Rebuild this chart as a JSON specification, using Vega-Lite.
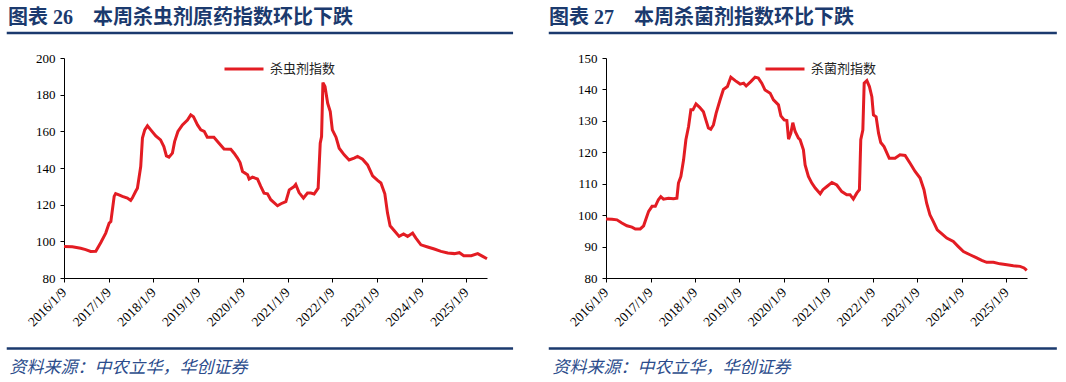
{
  "$schema": "https://vega.github.io/schema/vega-lite/v6.json",
  "background": "white",
  "padding": {"left": 5, "top": 7, "right": 5, "bottom": 5},
  "bounds": "flush",
  "spacing": 119,
  "resolve": {"scale": {"color": "independent", "x": "independent", "y": "independent"}, "legend": {"color": "independent"}},
  "config": {
    "view": {"stroke": null},
    "axis": {
      "domainColor": "#000000",
      "tickColor": "#000000",
      "labelColor": "#000000",
      "labelFont": "Liberation Serif",
      "grid": false,
      "tickSize": 4
    }
  },
  "datasets": {
    "insect": [
      {"date": "2016-01-09", "value": 97.2},
      {"date": "2016-03-17", "value": 97.0},
      {"date": "2016-05-24", "value": 96.2},
      {"date": "2016-07-04", "value": 95.5},
      {"date": "2016-08-14", "value": 94.5},
      {"date": "2016-09-25", "value": 94.6},
      {"date": "2016-11-05", "value": 99.4},
      {"date": "2016-12-15", "value": 104.5},
      {"date": "2017-01-12", "value": 110.0},
      {"date": "2017-01-26", "value": 110.8},
      {"date": "2017-02-22", "value": 124.5},
      {"date": "2017-03-06", "value": 126.0},
      {"date": "2017-04-02", "value": 125.3},
      {"date": "2017-04-30", "value": 124.5},
      {"date": "2017-06-10", "value": 123.6},
      {"date": "2017-07-07", "value": 122.3},
      {"date": "2017-07-20", "value": 123.6},
      {"date": "2017-08-17", "value": 127.3},
      {"date": "2017-08-31", "value": 129.0},
      {"date": "2017-09-27", "value": 140.8},
      {"date": "2017-10-11", "value": 156.3},
      {"date": "2017-10-30", "value": 160.8},
      {"date": "2017-11-21", "value": 163.0},
      {"date": "2017-12-18", "value": 160.8},
      {"date": "2018-01-28", "value": 157.5},
      {"date": "2018-03-08", "value": 155.3},
      {"date": "2018-04-04", "value": 151.7},
      {"date": "2018-04-25", "value": 146.6},
      {"date": "2018-05-16", "value": 145.9},
      {"date": "2018-06-13", "value": 148.1},
      {"date": "2018-07-01", "value": 154.4},
      {"date": "2018-07-28", "value": 159.9},
      {"date": "2018-09-03", "value": 163.5},
      {"date": "2018-10-14", "value": 166.2},
      {"date": "2018-11-10", "value": 169.0},
      {"date": "2018-12-02", "value": 168.0},
      {"date": "2019-01-04", "value": 163.5},
      {"date": "2019-01-31", "value": 160.8},
      {"date": "2019-02-28", "value": 160.0},
      {"date": "2019-03-25", "value": 156.8},
      {"date": "2019-05-18", "value": 156.8},
      {"date": "2019-06-29", "value": 153.5},
      {"date": "2019-08-09", "value": 150.4},
      {"date": "2019-10-03", "value": 150.2},
      {"date": "2019-10-30", "value": 148.1},
      {"date": "2019-11-27", "value": 145.4},
      {"date": "2019-12-18", "value": 143.0},
      {"date": "2020-01-07", "value": 138.1},
      {"date": "2020-02-17", "value": 136.3},
      {"date": "2020-03-01", "value": 134.0},
      {"date": "2020-03-28", "value": 135.0},
      {"date": "2020-05-08", "value": 134.0},
      {"date": "2020-06-04", "value": 130.0},
      {"date": "2020-07-01", "value": 126.3},
      {"date": "2020-07-29", "value": 125.9},
      {"date": "2020-08-25", "value": 122.7},
      {"date": "2020-10-19", "value": 119.4},
      {"date": "2020-11-16", "value": 120.5},
      {"date": "2020-12-26", "value": 121.7},
      {"date": "2021-01-23", "value": 128.1},
      {"date": "2021-03-04", "value": 129.9},
      {"date": "2021-03-17", "value": 131.0},
      {"date": "2021-04-13", "value": 126.6},
      {"date": "2021-05-19", "value": 123.6},
      {"date": "2021-06-21", "value": 126.3},
      {"date": "2021-07-18", "value": 126.3},
      {"date": "2021-08-14", "value": 125.8},
      {"date": "2021-09-16", "value": 129.0},
      {"date": "2021-10-03", "value": 153.5},
      {"date": "2021-10-14", "value": 157.1},
      {"date": "2021-10-25", "value": 186.6},
      {"date": "2021-11-11", "value": 184.4},
      {"date": "2021-12-03", "value": 175.3},
      {"date": "2021-12-24", "value": 170.8},
      {"date": "2022-01-10", "value": 160.8},
      {"date": "2022-02-09", "value": 156.8},
      {"date": "2022-03-07", "value": 150.8},
      {"date": "2022-04-17", "value": 147.2},
      {"date": "2022-05-27", "value": 144.4},
      {"date": "2022-07-07", "value": 145.4},
      {"date": "2022-08-04", "value": 146.3},
      {"date": "2022-09-14", "value": 144.8},
      {"date": "2022-10-25", "value": 141.7},
      {"date": "2022-12-05", "value": 135.7},
      {"date": "2023-01-15", "value": 133.2},
      {"date": "2023-02-11", "value": 131.8},
      {"date": "2023-03-15", "value": 125.9},
      {"date": "2023-04-06", "value": 115.4},
      {"date": "2023-04-27", "value": 108.5},
      {"date": "2023-05-30", "value": 105.9},
      {"date": "2023-07-10", "value": 102.7},
      {"date": "2023-08-15", "value": 104.0},
      {"date": "2023-09-17", "value": 102.7},
      {"date": "2023-10-28", "value": 104.5},
      {"date": "2023-11-24", "value": 101.8},
      {"date": "2024-01-04", "value": 98.1},
      {"date": "2024-02-28", "value": 96.9},
      {"date": "2024-04-22", "value": 95.8},
      {"date": "2024-06-16", "value": 94.5},
      {"date": "2024-08-10", "value": 93.6},
      {"date": "2024-10-03", "value": 93.3},
      {"date": "2024-11-13", "value": 93.8},
      {"date": "2024-12-19", "value": 92.2},
      {"date": "2025-02-18", "value": 92.2},
      {"date": "2025-04-12", "value": 93.3},
      {"date": "2025-05-23", "value": 91.8},
      {"date": "2025-06-27", "value": 90.5}
    ],
    "fungi": [
      {"date": "2016-01-09", "value": 98.8},
      {"date": "2016-02-27", "value": 98.7},
      {"date": "2016-04-08", "value": 98.5},
      {"date": "2016-05-18", "value": 97.5},
      {"date": "2016-06-29", "value": 96.6},
      {"date": "2016-08-09", "value": 96.2},
      {"date": "2016-09-06", "value": 95.6},
      {"date": "2016-10-16", "value": 95.6},
      {"date": "2016-11-13", "value": 96.6},
      {"date": "2016-12-05", "value": 99.1},
      {"date": "2016-12-24", "value": 101.2},
      {"date": "2017-01-21", "value": 102.8},
      {"date": "2017-02-17", "value": 102.8},
      {"date": "2017-03-14", "value": 104.9},
      {"date": "2017-04-03", "value": 105.9},
      {"date": "2017-04-25", "value": 105.1},
      {"date": "2017-06-05", "value": 105.4},
      {"date": "2017-07-16", "value": 105.2},
      {"date": "2017-08-13", "value": 105.4},
      {"date": "2017-08-26", "value": 110.2},
      {"date": "2017-09-15", "value": 112.3},
      {"date": "2017-10-07", "value": 117.6},
      {"date": "2017-10-26", "value": 124.0},
      {"date": "2017-11-17", "value": 128.2},
      {"date": "2017-12-06", "value": 133.5},
      {"date": "2017-12-23", "value": 133.5},
      {"date": "2018-01-17", "value": 135.4},
      {"date": "2018-02-16", "value": 134.3},
      {"date": "2018-03-19", "value": 132.9},
      {"date": "2018-04-08", "value": 130.3},
      {"date": "2018-04-29", "value": 127.7},
      {"date": "2018-05-18", "value": 127.3},
      {"date": "2018-06-09", "value": 128.7},
      {"date": "2018-07-01", "value": 132.4},
      {"date": "2018-08-03", "value": 136.7},
      {"date": "2018-08-30", "value": 140.0},
      {"date": "2018-10-02", "value": 140.9},
      {"date": "2018-10-30", "value": 143.9},
      {"date": "2018-12-05", "value": 142.8},
      {"date": "2019-01-15", "value": 141.7},
      {"date": "2019-02-12", "value": 142.0},
      {"date": "2019-03-05", "value": 141.1},
      {"date": "2019-04-12", "value": 142.5},
      {"date": "2019-05-17", "value": 143.9},
      {"date": "2019-06-13", "value": 143.6},
      {"date": "2019-07-11", "value": 142.0},
      {"date": "2019-08-07", "value": 139.8},
      {"date": "2019-09-18", "value": 138.8},
      {"date": "2019-10-15", "value": 136.7},
      {"date": "2019-11-25", "value": 135.1},
      {"date": "2019-12-15", "value": 131.6},
      {"date": "2020-01-11", "value": 130.3},
      {"date": "2020-02-02", "value": 130.1},
      {"date": "2020-02-16", "value": 124.2},
      {"date": "2020-03-06", "value": 126.1},
      {"date": "2020-03-22", "value": 129.4},
      {"date": "2020-04-10", "value": 126.6},
      {"date": "2020-05-07", "value": 124.5},
      {"date": "2020-05-21", "value": 124.0},
      {"date": "2020-06-17", "value": 120.8},
      {"date": "2020-07-01", "value": 116.0},
      {"date": "2020-07-28", "value": 112.3},
      {"date": "2020-08-25", "value": 110.2},
      {"date": "2020-09-22", "value": 108.6},
      {"date": "2020-11-02", "value": 106.8},
      {"date": "2020-11-24", "value": 108.1},
      {"date": "2020-12-27", "value": 109.1},
      {"date": "2021-02-06", "value": 110.4},
      {"date": "2021-03-18", "value": 109.6},
      {"date": "2021-04-28", "value": 107.5},
      {"date": "2021-06-08", "value": 106.5},
      {"date": "2021-07-05", "value": 106.5},
      {"date": "2021-08-01", "value": 105.1},
      {"date": "2021-08-29", "value": 107.0},
      {"date": "2021-09-20", "value": 108.1},
      {"date": "2021-10-01", "value": 124.0},
      {"date": "2021-10-18", "value": 127.1},
      {"date": "2021-10-29", "value": 142.0},
      {"date": "2021-11-20", "value": 142.8},
      {"date": "2021-12-11", "value": 140.9},
      {"date": "2021-12-31", "value": 137.7},
      {"date": "2022-01-13", "value": 131.9},
      {"date": "2022-02-04", "value": 131.3},
      {"date": "2022-02-24", "value": 126.1},
      {"date": "2022-03-14", "value": 123.1},
      {"date": "2022-04-10", "value": 121.8},
      {"date": "2022-05-23", "value": 118.1},
      {"date": "2022-07-09", "value": 118.1},
      {"date": "2022-08-19", "value": 119.2},
      {"date": "2022-09-30", "value": 119.0},
      {"date": "2022-11-10", "value": 116.5},
      {"date": "2022-12-21", "value": 113.9},
      {"date": "2023-01-31", "value": 111.8},
      {"date": "2023-03-04", "value": 108.1},
      {"date": "2023-03-26", "value": 103.8},
      {"date": "2023-04-22", "value": 100.1},
      {"date": "2023-05-19", "value": 98.0},
      {"date": "2023-06-21", "value": 95.3},
      {"date": "2023-07-27", "value": 94.1},
      {"date": "2023-09-07", "value": 92.7},
      {"date": "2023-10-31", "value": 91.6},
      {"date": "2023-12-11", "value": 90.0},
      {"date": "2024-01-22", "value": 88.4},
      {"date": "2024-03-16", "value": 87.4},
      {"date": "2024-05-10", "value": 86.4},
      {"date": "2024-06-20", "value": 85.6},
      {"date": "2024-07-31", "value": 85.0},
      {"date": "2024-09-24", "value": 85.0},
      {"date": "2024-11-18", "value": 84.5},
      {"date": "2025-01-13", "value": 84.2},
      {"date": "2025-03-07", "value": 83.9},
      {"date": "2025-05-01", "value": 83.7},
      {"date": "2025-06-03", "value": 83.2},
      {"date": "2025-06-25", "value": 82.4}
    ]
  },
  "hconcat": [
    {
      "width": 423,
      "height": 220,
      "title": {
        "text": "图表 26\u3000本周杀虫剂原药指数环比下跌",
        "anchor": "start",
        "frame": "group",
        "dx": -56,
        "offset": 4,
        "font": "Liberation Serif, Noto Sans CJK SC",
        "fontSize": 20,
        "fontWeight": "bold",
        "color": "#1B3A6E"
      },
      "layer": [
        {
          "data": {"name": "insect"},
          "mark": {"type": "line", "strokeWidth": 3, "color": "#E31C23"},
          "encoding": {
            "x": {
              "field": "date",
              "type": "temporal",
              "scale": {"type": "utc", "domain": [{"year": 2016, "month": 1, "date": 9, "utc": true}, {"year": 2025, "month": 6, "date": 27, "utc": true}]},
              "axis": {
                "values": [
                  {"year": 2016, "month": 1, "date": 9, "utc": true},
                  {"year": 2017, "month": 1, "date": 9, "utc": true},
                  {"year": 2018, "month": 1, "date": 9, "utc": true},
                  {"year": 2019, "month": 1, "date": 9, "utc": true},
                  {"year": 2020, "month": 1, "date": 9, "utc": true},
                  {"year": 2021, "month": 1, "date": 9, "utc": true},
                  {"year": 2022, "month": 1, "date": 9, "utc": true},
                  {"year": 2023, "month": 1, "date": 9, "utc": true},
                  {"year": 2024, "month": 1, "date": 9, "utc": true},
                  {"year": 2025, "month": 1, "date": 9, "utc": true}
                ],
                "format": "%Y/%-m/%-d",
                "labelAngle": -45,
                "labelAlign": "right",
                "labelBaseline": "middle",
                "labelFontSize": 13.5,
                "labelPadding": 8,
                "labelOverlap": false,
                "labelFlush": false,
                "title": "资料来源：中农立华，华创证券",
                "titleFont": "Noto Sans CJK SC",
                "titleFontStyle": "italic",
                "titleFontWeight": "normal",
                "titleFontSize": 17,
                "titleColor": "#2B4C8C",
                "titleAnchor": "start",
                "titleAlign": "left",
                "titleBaseline": "alphabetic",
                "titleX": -55,
                "titleY": 94
              }
            },
            "y": {
              "field": "value",
              "type": "quantitative",
              "scale": {"domain": [80, 200], "nice": false, "zero": false},
              "axis": {"values": [80, 100, 120, 140, 160, 180, 200], "labelFontSize": 13, "labelPadding": 5, "title": null}
            },
            "color": {
              "datum": "杀虫剂指数",
              "scale": {"range": ["#E31C23"]},
              "legend": {
                "title": null,
                "orient": "none",
                "legendX": 159,
                "legendY": -10,
                "padding": 0,
                "symbolType": "stroke",
                "symbolSize": 1521,
                "symbolStrokeWidth": 3,
                "labelFont": "Noto Sans CJK SC",
                "labelFontSize": 13,
                "labelColor": "#222222",
                "labelOffset": 5
              }
            }
          }
        },
        {
          "data": {"values": [{"top": 213.6, "bottom": 41.6}]},
          "transform": [{"fold": ["top", "bottom"], "as": ["which", "level"]}],
          "mark": {"type": "rule", "color": "#1B3A6E", "strokeWidth": 2.5, "clip": false},
          "encoding": {
            "x": {
              "datum": {"year": 2014, "month": 9, "date": 28, "utc": true},
              "type": "temporal",
              "axis": {
                "values": [
                  {"year": 2016, "month": 1, "date": 9, "utc": true},
                  {"year": 2017, "month": 1, "date": 9, "utc": true},
                  {"year": 2018, "month": 1, "date": 9, "utc": true},
                  {"year": 2019, "month": 1, "date": 9, "utc": true},
                  {"year": 2020, "month": 1, "date": 9, "utc": true},
                  {"year": 2021, "month": 1, "date": 9, "utc": true},
                  {"year": 2022, "month": 1, "date": 9, "utc": true},
                  {"year": 2023, "month": 1, "date": 9, "utc": true},
                  {"year": 2024, "month": 1, "date": 9, "utc": true},
                  {"year": 2025, "month": 1, "date": 9, "utc": true}
                ],
                "format": "%Y/%-m/%-d",
                "labelAngle": -45,
                "labelAlign": "right",
                "labelBaseline": "middle",
                "labelFontSize": 13.5,
                "labelPadding": 8,
                "labelOverlap": false,
                "labelFlush": false,
                "title": "资料来源：中农立华，华创证券",
                "titleFont": "Noto Sans CJK SC",
                "titleFontStyle": "italic",
                "titleFontWeight": "normal",
                "titleFontSize": 17,
                "titleColor": "#2B4C8C",
                "titleAnchor": "start",
                "titleAlign": "left",
                "titleBaseline": "alphabetic",
                "titleX": -55,
                "titleY": 94
              }
            },
            "x2": {"datum": {"year": 2026, "month": 1, "date": 26, "utc": true}},
            "y": {
              "field": "level",
              "type": "quantitative",
              "axis": {"values": [80, 100, 120, 140, 160, 180, 200], "labelFontSize": 13, "labelPadding": 5, "title": null}
            }
          }
        }
      ]
    },
    {
      "width": 421,
      "height": 220,
      "title": {
        "text": "图表 27\u3000本周杀菌剂指数环比下跌",
        "anchor": "start",
        "frame": "group",
        "dx": -57,
        "offset": 4,
        "font": "Liberation Serif, Noto Sans CJK SC",
        "fontSize": 20,
        "fontWeight": "bold",
        "color": "#1B3A6E"
      },
      "layer": [
        {
          "data": {"name": "fungi"},
          "mark": {"type": "line", "strokeWidth": 3, "color": "#E31C23"},
          "encoding": {
            "x": {
              "field": "date",
              "type": "temporal",
              "scale": {"type": "utc", "domain": [{"year": 2016, "month": 1, "date": 9, "utc": true}, {"year": 2025, "month": 6, "date": 27, "utc": true}]},
              "axis": {
                "values": [
                  {"year": 2016, "month": 1, "date": 9, "utc": true},
                  {"year": 2017, "month": 1, "date": 9, "utc": true},
                  {"year": 2018, "month": 1, "date": 9, "utc": true},
                  {"year": 2019, "month": 1, "date": 9, "utc": true},
                  {"year": 2020, "month": 1, "date": 9, "utc": true},
                  {"year": 2021, "month": 1, "date": 9, "utc": true},
                  {"year": 2022, "month": 1, "date": 9, "utc": true},
                  {"year": 2023, "month": 1, "date": 9, "utc": true},
                  {"year": 2024, "month": 1, "date": 9, "utc": true},
                  {"year": 2025, "month": 1, "date": 9, "utc": true}
                ],
                "format": "%Y/%-m/%-d",
                "labelAngle": -45,
                "labelAlign": "right",
                "labelBaseline": "middle",
                "labelFontSize": 13.5,
                "labelPadding": 8,
                "labelOverlap": false,
                "labelFlush": false,
                "title": "资料来源：中农立华，华创证券",
                "titleFont": "Noto Sans CJK SC",
                "titleFontStyle": "italic",
                "titleFontWeight": "normal",
                "titleFontSize": 17,
                "titleColor": "#2B4C8C",
                "titleAnchor": "start",
                "titleAlign": "left",
                "titleBaseline": "alphabetic",
                "titleX": -54,
                "titleY": 94
              }
            },
            "y": {
              "field": "value",
              "type": "quantitative",
              "scale": {"domain": [80, 150], "nice": false, "zero": false},
              "axis": {"values": [80, 90, 100, 110, 120, 130, 140, 150], "labelFontSize": 13, "labelPadding": 5, "title": null}
            },
            "color": {
              "datum": "杀菌剂指数",
              "scale": {"range": ["#E31C23"]},
              "legend": {
                "title": null,
                "orient": "none",
                "legendX": 158,
                "legendY": -10,
                "padding": 0,
                "symbolType": "stroke",
                "symbolSize": 1521,
                "symbolStrokeWidth": 3,
                "labelFont": "Noto Sans CJK SC",
                "labelFontSize": 13,
                "labelColor": "#222222",
                "labelOffset": 5
              }
            }
          }
        },
        {
          "data": {"values": [{"top": 157.95, "bottom": 57.6}]},
          "transform": [{"fold": ["top", "bottom"], "as": ["which", "level"]}],
          "mark": {"type": "rule", "color": "#1B3A6E", "strokeWidth": 2.5, "clip": false},
          "encoding": {
            "x": {
              "datum": {"year": 2014, "month": 9, "date": 26, "utc": true},
              "type": "temporal",
              "axis": {
                "values": [
                  {"year": 2016, "month": 1, "date": 9, "utc": true},
                  {"year": 2017, "month": 1, "date": 9, "utc": true},
                  {"year": 2018, "month": 1, "date": 9, "utc": true},
                  {"year": 2019, "month": 1, "date": 9, "utc": true},
                  {"year": 2020, "month": 1, "date": 9, "utc": true},
                  {"year": 2021, "month": 1, "date": 9, "utc": true},
                  {"year": 2022, "month": 1, "date": 9, "utc": true},
                  {"year": 2023, "month": 1, "date": 9, "utc": true},
                  {"year": 2024, "month": 1, "date": 9, "utc": true},
                  {"year": 2025, "month": 1, "date": 9, "utc": true}
                ],
                "format": "%Y/%-m/%-d",
                "labelAngle": -45,
                "labelAlign": "right",
                "labelBaseline": "middle",
                "labelFontSize": 13.5,
                "labelPadding": 8,
                "labelOverlap": false,
                "labelFlush": false,
                "title": "资料来源：中农立华，华创证券",
                "titleFont": "Noto Sans CJK SC",
                "titleFontStyle": "italic",
                "titleFontWeight": "normal",
                "titleFontSize": 17,
                "titleColor": "#2B4C8C",
                "titleAnchor": "start",
                "titleAlign": "left",
                "titleBaseline": "alphabetic",
                "titleX": -54,
                "titleY": 94
              }
            },
            "x2": {"datum": {"year": 2026, "month": 2, "date": 27, "utc": true}},
            "y": {
              "field": "level",
              "type": "quantitative",
              "axis": {"values": [80, 90, 100, 110, 120, 130, 140, 150], "labelFontSize": 13, "labelPadding": 5, "title": null}
            }
          }
        }
      ]
    }
  ]
}
